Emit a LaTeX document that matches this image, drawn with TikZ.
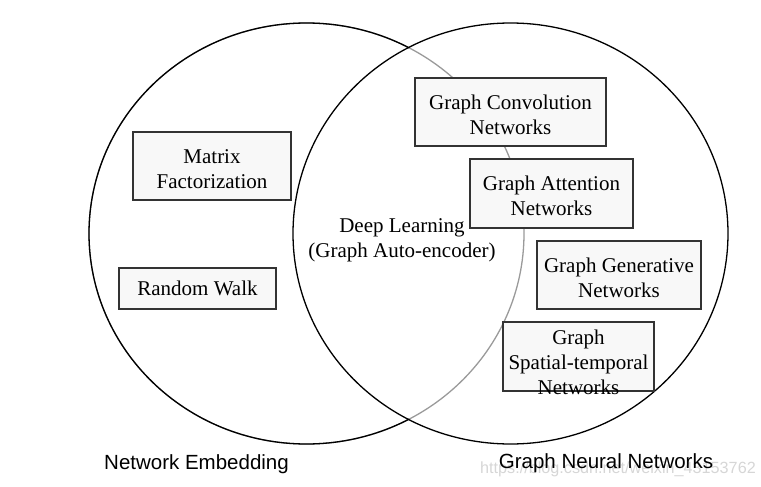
\documentclass[tikz,border=0pt]{standalone}
\usepackage{fontspec}
\setmainfont{Liberation Serif}
\newfontfamily\lsans{Liberation Sans}
\definecolor{boxfill}{HTML}{F8F8F8}
\definecolor{boxline}{HTML}{333333}
\definecolor{arcgray}{HTML}{9A9A9A}
\definecolor{wmark}{HTML}{D6D6D6}
\tikzset{
  box/.style={draw=boxline, fill=boxfill, line width=1.1pt, inner sep=0pt, rectangle},
  boxtext/.style={align=center, inner sep=0pt, font=\fontsize{21}{25}\selectfont},
  circ/.style={line width=1.3pt},
  biglabel/.style={font=\lsans\fontsize{20.5}{24}\selectfont, anchor=base, inner sep=0pt}
}
\begin{document}
\begin{tikzpicture}[x=1pt,y=-1pt]
\useasboundingbox (0,0) rectangle (761,487);
% circles
\draw[circ, draw=arcgray] (306.5,233.5) ellipse [x radius=217.5, y radius=210.5];
\begin{scope}
  \clip (0,0) rectangle (408.5,487);
  \draw[circ, draw=black] (306.5,233.5) ellipse [x radius=217.5, y radius=210.5];
\end{scope}
\draw[circ, draw=black] (510.5,233.5) ellipse [x radius=217.5, y radius=210.5];
% boxes
\node[box, minimum width=158pt, minimum height=68pt] (mf) at (212,166) {};
\node[boxtext] (mft) at (212,169) {Matrix\\Factorization};
\node[box, minimum width=157pt, minimum height=41pt] (rw) at (197.5,288.5) {};
\node[boxtext] (rwt) at (197.5,288) {Random Walk};
\node[box, minimum width=191pt, minimum height=68pt] (gcn) at (510.5,112) {};
\node[boxtext] (gcnt) at (510.5,114.5) {Graph Convolution\\Networks};
\node[box, minimum width=163pt, minimum height=69pt] (gat) at (551.5,193.5) {};
\node[boxtext] (gatt) at (551.5,196) {Graph Attention\\Networks};
\node[box, minimum width=164pt, minimum height=68pt] (ggn) at (619,275) {};
\node[boxtext] (ggnt) at (619,277.5) {Graph Generative\\Networks};
\node[box, minimum width=151pt, minimum height=69pt] (gst) at (578.5,356.5) {};
\node[boxtext] (gstt) at (578.5,362) {Graph\\Spatial-temporal\\Networks};
% centre text
\node[boxtext] (dl) at (402,240) {Deep Learning\\(Graph Auto-encoder)};
% labels
\node[biglabel, text=wmark, anchor=base west, font=\lsans\fontsize{16.2}{19}\selectfont] (wm) at (480,473) {https://blog.csdn.net/weixin\_43153762};
\node[biglabel] (ne) at (196.5,469) {Network Embedding};
\node[biglabel] (gnn) at (606,468) {Graph Neural Networks};
\end{tikzpicture}
\end{document}
